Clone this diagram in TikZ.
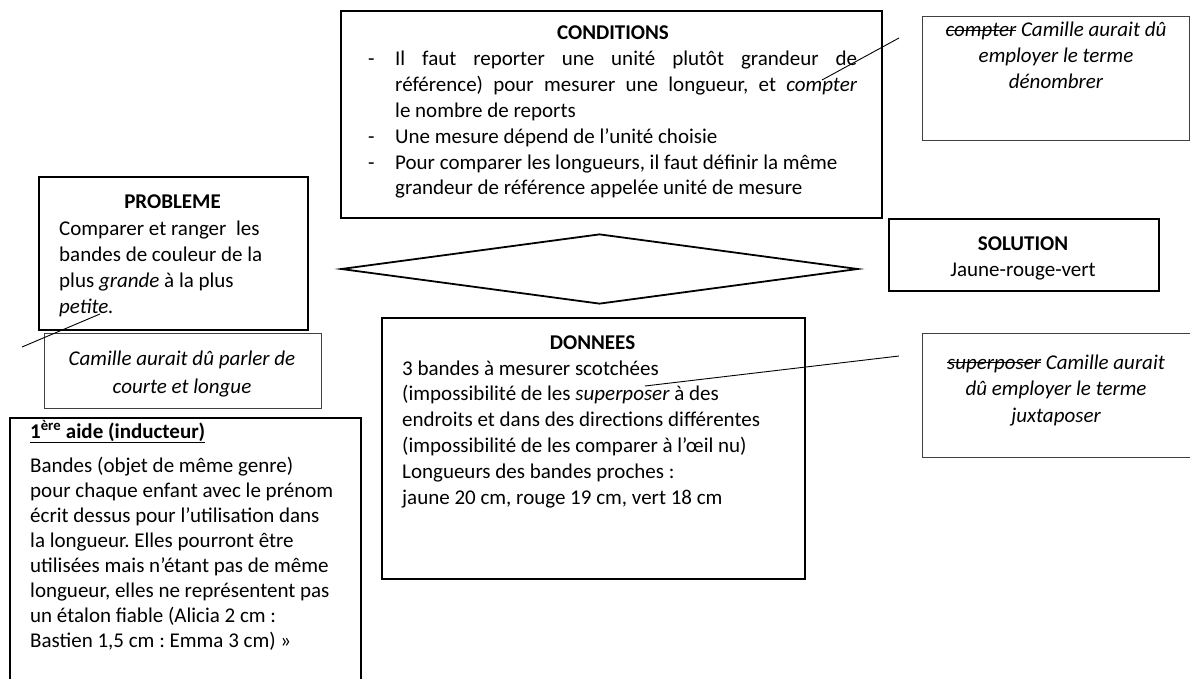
\documentclass[tikz,border=0pt]{standalone}
\usepackage{fontspec}
\setmainfont{Carlito}
\usetikzlibrary{shapes.geometric}
\frenchspacing
\newsavebox\strkbox
\newcommand\strk[1]{\leavevmode\sbox\strkbox{#1}\rlap{\rule[0.27em]{\wd\strkbox}{0.06em}}\usebox\strkbox}
\newcommand\txtbox[3]{\begin{minipage}[t]{#1pt}#2#3\end{minipage}}
\begin{document}
\begin{tikzpicture}[x=1pt,y=-1pt,
  thickbox/.style={draw=black,line width=1.8pt,inner sep=0pt,anchor=north west},
  thinbox/.style={draw=black!75,line width=1pt,inner sep=0pt,anchor=north west},
  txt/.style={inner sep=0pt,anchor=base west,font=\fontsize{21}{25.8}\selectfont},
  ctxt/.style={inner sep=0pt,anchor=base,font=\fontsize{21}{25.8}\selectfont},
  callout/.style={draw=black,line width=0.9pt}]
\useasboundingbox (0,0) rectangle (1190,679);
\clip (0,0) rectangle (1190,679);

% CONDITIONS
\node[thickbox,minimum width=541,minimum height=207] (cond) at (340,10) {};
\node[ctxt,font=\fontsize{21}{25.8}\selectfont\bfseries] (condt) at (613,40) {CONDITIONS};
\node[txt] (d1) at (368,66) {-};
\node[txt] (d2) at (368,144) {-};
\node[txt] (d3) at (368,170) {-};
\node[txt] (condb) at (395,66) {\txtbox{462}{}{%
Il faut reporter une unité plutôt grandeur de\linebreak
référence) pour mesurer une longueur, et \textit{compter}\linebreak
le nombre de reports\newline
Une mesure dépend de l’unité choisie\newline
Pour comparer les longueurs, il faut définir la même\newline
grandeur de référence appelée unité de mesure}};

% compter comment
\node[thinbox,minimum width=267,minimum height=124] (cpt) at (922,16) {};
\node[ctxt,font=\fontsize{21}{25.8}\selectfont\itshape] (cptt) at (1056,37) {\txtbox{265}{\centering}{%
\strk{compter} Camille aurait dû\\ employer le terme\\ dénombrer}};
\coordinate (cptA) at (822,80);
\coordinate (cptB) at (899,38);
\draw[callout] (cptA) -- (cptB);

% PROBLEME
\node[thickbox,minimum width=269,minimum height=153] (pb) at (38,176) {};
\node[ctxt,font=\fontsize{21}{25.8}\selectfont\bfseries] (pbt) at (172.5,208) {PROBLEME};
\node[txt,font=\fontsize{21}{26.3}\selectfont] (pbb) at (59,235) {\txtbox{245}{\raggedright}{%
Comparer et ranger\ \ les\\
bandes de couleur de la\\
plus \textit{grande} à la plus\\
\textit{petite.}}};

% Camille comment
\node[thinbox,minimum width=277,minimum height=75] (cam) at (44,333) {};
\node[ctxt,font=\fontsize{21}{28}\selectfont\itshape] (camt) at (182,365) {\txtbox{275}{\centering}{%
Camille aurait dû parler de\\ courte et longue}};
\coordinate (camA) at (22,347);
\coordinate (camB) at (100,314);
\draw[callout] (camA) -- (camB);

% 1ere aide
\node[thickbox,minimum width=351,minimum height=300] (aide) at (9,417) {};
\node[txt,font=\fontsize{21}{25}\selectfont\bfseries] (aidet) at (30,438) {%
\underline{1\textsuperscript{ère} aide (inducteur)}};
\node[txt,font=\fontsize{21}{25.1}\selectfont] (aideb) at (30,472) {\txtbox{330}{\raggedright}{%
Bandes (objet de même genre)\\
pour chaque enfant avec le prénom\\
écrit dessus pour l’utilisation dans\\
la longueur. Elles pourront être\\
utilisées mais n’étant pas de même\\
longueur, elles ne représentent pas\\
un étalon fiable (Alicia 2 cm :\\
Bastien 1,5 cm : Emma 3 cm) »}};

% diamond
\node[diamond,draw=black,line width=1.8pt,aspect=7.4,minimum width=517,minimum height=70,inner sep=0pt] (diam) at (599.5,269) {};

% SOLUTION
\node[thickbox,minimum width=270,minimum height=72] (sol) at (888,218) {};
\node[ctxt,font=\fontsize{21}{25.8}\selectfont\bfseries] (solt) at (1023,250) {SOLUTION};
\node[ctxt] (solb) at (1023,276) {Jaune-rouge-vert};

% DONNEES
\node[thickbox,minimum width=423,minimum height=261] (don) at (381,317) {};
\node[ctxt,font=\fontsize{21}{25.8}\selectfont\bfseries] (dont) at (592.5,349) {DONNEES};
\node[txt] (donb) at (402,375) {\txtbox{400}{\raggedright}{%
3 bandes à mesurer scotchées\\
(impossibilité de les \textit{superposer} à des\\
endroits et dans des directions différentes\\
(impossibilité de les comparer à l’œil nu)\\
Longueurs des bandes proches :\\
jaune 20 cm, rouge 19 cm, vert 18 cm}};

% superposer comment
\node[thinbox,minimum width=270,minimum height=124] (sup) at (922,333) {};
\node[ctxt,font=\fontsize{21}{26.5}\selectfont\itshape] (supt) at (1056,369) {\txtbox{265}{\centering}{%
\strk{superposer} Camille aurait\\ dû employer le terme\\ juxtaposer}};
\coordinate (supA) at (645,386);
\coordinate (supB) at (899,356);
\draw[callout] (supA) -- (supB);
\end{tikzpicture}
\end{document}
